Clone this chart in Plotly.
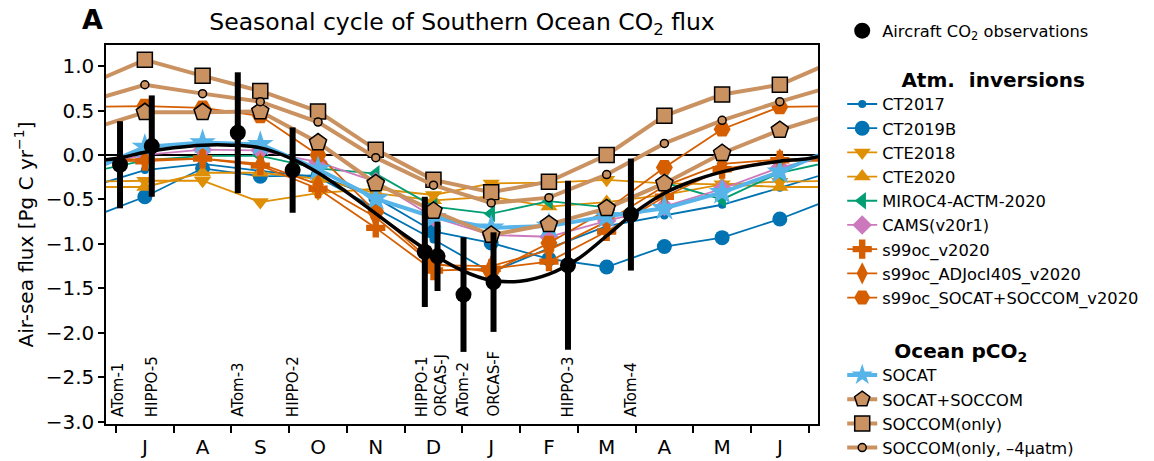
import plotly.graph_objects as go

FONT = "DejaVu Sans"

# Month axis: 0 = 1 July, 12 = 1 July of the following year
month_letters = ["J", "A", "S", "O", "N", "D", "J", "F", "M", "A", "M", "J"]
month_mid = [i + 0.5 for i in range(12)]
month_edges = list(range(13))

# Monthly mean air-sea CO2 flux (Pg C / yr), July ... June
ct2017 = [-0.17, -0.10, -0.18, -0.25, -0.60, -0.95, -1.32, -1.05, -0.80, -0.68, -0.56, -0.37]
ct2019b = [-0.47, -0.15, -0.24, -0.23, -0.48, -0.86, -0.99, -1.17, -1.26, -1.03, -0.93, -0.72]
cte2018 = [-0.29, -0.29, -0.53, -0.43, -0.38, -0.45, -0.32, -0.31, -0.28, -0.32, -0.33, -0.30]
cte2020 = [-0.36, -0.20, -0.20, -0.27, -0.43, -0.51, -0.47, -0.58, -0.53, -0.45, -0.33, -0.36]
miroc4 = [-0.06, -0.01, -0.01, -0.15, -0.21, -0.58, -0.66, -0.52, -0.59, -0.31, -0.50, -0.20]
cams = [0.00, 0.06, 0.05, -0.08, -0.30, -0.70, -0.90, -0.92, -0.74, -0.58, -0.38, -0.14]
s99oc = [-0.07, -0.04, -0.12, -0.38, -0.82, -1.30, -1.28, -1.20, -0.86, -0.47, -0.16, -0.06]
s99oc_adj = [-0.05, -0.04, -0.10, -0.33, -0.70, -1.24, -1.25, -1.07, -0.75, -0.35, -0.10, -0.05]
s99oc_socat = [0.55, 0.53, 0.44, 0.00, -0.64, -1.22, -1.32, -0.99, -0.62, -0.14, 0.29, 0.54]

socat = [0.09, 0.14, 0.12, -0.16, -0.49, -0.70, -0.82, -0.80, -0.69, -0.60, -0.42, -0.19]
socat_soccom = [0.48, 0.48, 0.49, 0.14, -0.32, -0.63, -0.90, -0.78, -0.60, -0.32, 0.02, 0.28]
soccom = [1.07, 0.89, 0.72, 0.49, 0.06, -0.28, -0.42, -0.30, 0.00, 0.44, 0.68, 0.79]
soccom_4uatm = [0.79, 0.69, 0.60, 0.37, -0.03, -0.34, -0.54, -0.48, -0.22, 0.13, 0.39, 0.60]

# Aircraft campaign estimates
campaigns = ["ATom-1", "HIPPO-5", "ATom-3", "HIPPO-2", "HIPPO-1",
             "ORCAS-J", "ATom-2", "ORCAS-F", "HIPPO-3", "ATom-4"]
campaign_time = [0.07, 0.62, 2.11, 3.06, 5.35, 5.57, 6.02, 6.54, 7.83, 8.92]
campaign_flux = [-0.11, 0.10, 0.25, -0.17, -1.09, -1.14, -1.57, -1.43, -1.24, -0.67]
campaign_err = [0.49, 0.57, 0.68, 0.48, 0.62, 0.39, 0.645, 0.56, 0.95, 0.63]

# Smooth seasonal fit to the aircraft estimates, half-month steps
fit_time = [i * 0.5 for i in range(25)]
fit_flux = [-0.04, 0.03, 0.08, 0.11, 0.11, 0.08, -0.03, -0.20, -0.42, -0.66,
            -0.90, -1.12, -1.30, -1.41, -1.42, -1.34, -1.17, -0.91, -0.64, -0.43,
            -0.29, -0.19, -0.12, -0.07, -0.04]

BLUE = "#0173b2"
ORANGE = "#de8f05"
GREEN = "#029e73"
VERMIL = "#d55e00"
PINK = "#cc78bc"
TAN = "#ca9161"
LIGHTBLUE = "#56b4e9"


def cyclic(vals):
    """Pad a July-June cycle with its neighbours so lines run to the frame."""
    return [-0.5] + month_mid + [12.5], [vals[-1]] + vals + [vals[0]]


fig = go.Figure()

atm = [
    ("CT2017", ct2017, BLUE, "circle", 8),
    ("CT2019B", ct2019b, BLUE, "circle", 15),
    ("CTE2018", cte2018, ORANGE, "triangle-down", 15),
    ("CTE2020", cte2020, ORANGE, "triangle-up", 15),
    ("MIROC4-ACTM-2020", miroc4, GREEN, "triangle-left", 15),
    ("CAMS(v20r1)", cams, PINK, "diamond", 15),
    ("s99oc_v2020", s99oc, VERMIL, "cross", 16),
    ("s99oc_ADJocI40S_v2020", s99oc_adj, VERMIL, "diamond-tall", 16),
    ("s99oc_SOCAT+SOCCOM_v2020", s99oc_socat, VERMIL, "hexagon2", 17),
]
for name, vals, color, symbol, size in atm:
    x, y = cyclic(vals)
    fig.add_trace(go.Scatter(
        x=x, y=y, mode="lines+markers", name=name,
        line=dict(color=color, width=1.8),
        marker=dict(symbol=symbol, size=size, color=color, line=dict(width=0)),
        legend="legend2",
    ))

ocean = [
    ("SOCAT", socat, LIGHTBLUE, "star", 20, 0),
    ("SOCAT+SOCCOM", socat_soccom, TAN, "pentagon", 18, 1.5),
    ("SOCCOM(only)", soccom, TAN, "square", 15, 1.5),
    ("SOCCOM(only, \u20134\u03bcatm)", soccom_4uatm, TAN, "circle", 8, 1.5),
]
for name, vals, color, symbol, size, edge in ocean:
    x, y = cyclic(vals)
    fig.add_trace(go.Scatter(
        x=x, y=y, mode="lines+markers", name=name,
        line=dict(color=color, width=4),
        marker=dict(symbol=symbol, size=size, color=color,
                    line=dict(color="black", width=edge)),
        legend="legend3",
    ))

# seasonal fit through the aircraft estimates
fx = [-0.5] + fit_time + [12.5]
fy = [fit_flux[-2]] + fit_flux + [fit_flux[1]]
fig.add_trace(go.Scatter(
    x=fx, y=fy, mode="lines", line=dict(color="black", width=3.5, shape="spline", smoothing=1),
    showlegend=False, hoverinfo="skip",
))

fig.add_trace(go.Scatter(
    x=campaign_time, y=campaign_flux, mode="markers",
    name="Aircraft CO<sub>2</sub> observations",
    marker=dict(symbol="circle", size=16, color="black"),
    error_y=dict(type="data", array=campaign_err, color="black", thickness=6, width=0),
    legend="legend",
))

# campaign names written upward along the bottom of the frame
label_shift = {"ATom-1": -2, "HIPPO-1": -3, "ORCAS-J": 3}
for name, t in zip(campaigns, campaign_time):
    fig.add_annotation(
        x=t, y=-2.97, xref="x", yref="y", text=name, textangle=-90,
        showarrow=False, xanchor="center", yanchor="bottom",
        xshift=label_shift.get(name, 0),
        font=dict(family=FONT, size=15, color="black"),
    )

fig.add_annotation(
    x=-0.037, y=1.066, xref="paper", yref="paper", text="<b>A</b>",
    showarrow=False, xanchor="left", yanchor="middle",
    font=dict(family=FONT, size=27, color="black"),
)

axis_common = dict(
    showline=True, linecolor="black", linewidth=1.5, mirror=True,
    showgrid=False, automargin=False,
    tickfont=dict(family=FONT, size=20, color="black"),
)

legend_common = dict(
    xanchor="left", yanchor="top", bgcolor="rgba(0,0,0,0)",
    font=dict(family=FONT, size=16.3, color="black"), tracegroupgap=0,
    itemwidth=30,
)

fig.update_layout(
    width=1154, height=461,
    margin=dict(l=106, r=336, t=45, b=37, autoexpand=False),
    paper_bgcolor="white", plot_bgcolor="white",
    font=dict(family=FONT, color="black"),
    title=dict(
        text="Seasonal cycle of Southern Ocean CO<sub>2</sub> flux",
        x=0.5, xref="paper", xanchor="center",
        y=0.952, yref="container", yanchor="middle",
        font=dict(family=FONT, size=23.5, color="black"),
    ),
    xaxis=dict(
        **axis_common,
        range=[-0.173, 12.161],
        tickmode="array", tickvals=month_mid, ticktext=month_letters,
        ticks="outside", ticklen=4, tickcolor="rgba(0,0,0,0)",
        minor=dict(tickmode="array", tickvals=month_edges, ticks="outside",
                   ticklen=7, tickwidth=1.5, tickcolor="black"),
        zeroline=False,
    ),
    yaxis=dict(
        **axis_common,
        range=[-3.026, 1.237],
        tickmode="array", tickvals=[-3.0, -2.5, -2.0, -1.5, -1.0, -0.5, 0.0, 0.5, 1.0],
        tickformat=".1f", ticks="outside", ticklen=6, tickwidth=1.5, tickcolor="black",
        zeroline=True, zerolinecolor="black", zerolinewidth=1.5,
        title=dict(text="Air-sea flux [Pg C yr<sup>\u22121</sup>]",
                   font=dict(family=FONT, size=20, color="black"), standoff=7),
    ),
    legend=dict(**legend_common, x=1.034, y=1.083),
    legend2=dict(**legend_common, x=1.034, y=0.958,
                 title=dict(text="<b>Atm.\u00a0 inversions</b>", side="top center",
                            font=dict(family=FONT, size=20, color="black"))),
    legend3=dict(**legend_common, x=1.034, y=0.243,
                 title=dict(text="<b>Ocean pCO<sub>2</sub></b>", side="top center",
                            font=dict(family=FONT, size=20, color="black"))),
    showlegend=True,
)

fig.write_html("out.html")
